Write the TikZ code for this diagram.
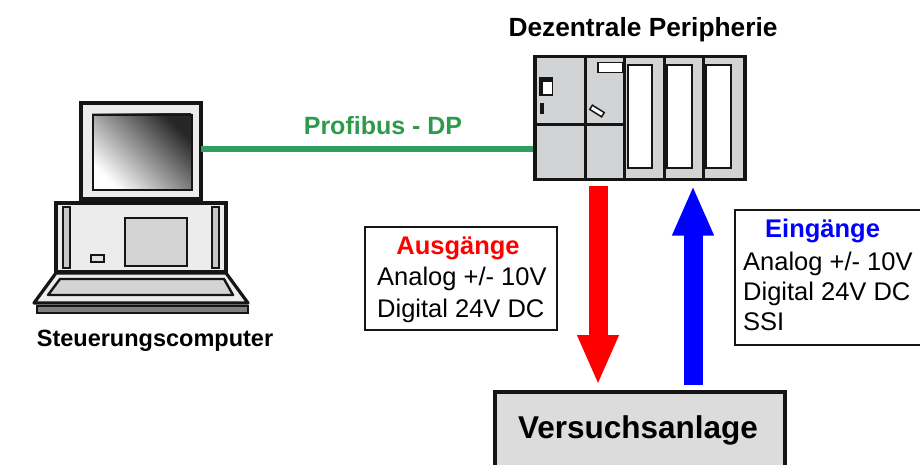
\documentclass[tikz,border=0pt]{standalone}
\usepackage{fontspec}
\setmainfont{Liberation Sans}
\usetikzlibrary{arrows.meta,calc}

\definecolor{busgreen}{HTML}{2E9E62}
\definecolor{busgreentext}{HTML}{2E9A4C}
\definecolor{casegray}{HTML}{ECECEC}
\definecolor{panelgray}{HTML}{D4D4D4}
\definecolor{plcgray}{HTML}{D2D3D5}
\definecolor{plantgray}{HTML}{DCDCDC}
\definecolor{edge}{HTML}{151515}

\tikzset{
  part/.style={draw=edge, line width=3.5pt, fill=casegray, inner sep=0pt, outer sep=0pt},
  inset/.style={draw=edge, line width=1.6pt, fill=panelgray, inner sep=0pt, outer sep=0pt},
  slot/.style={draw=edge, line width=1.8pt, fill=white, inner sep=0pt, outer sep=0pt},
  infobox/.style={draw=edge, line width=1.8pt, fill=white, inner sep=0pt, outer sep=0pt},
  title/.style={font=\bfseries\fontsize{23.5}{28}\selectfont, inner sep=0pt},
  body/.style={font=\fontsize{25.5}{30}\selectfont, inner sep=0pt},
  head/.style={font=\bfseries\fontsize{25.5}{30}\selectfont, inner sep=0pt},
  bus/.style={draw=busgreen, line width=6.5pt},
  blockarrow/.style={line width=19pt, line cap=butt, -{Triangle[width=38pt,length=50pt]}},
}

\begin{document}
\begin{tikzpicture}[x=1pt,y=-1pt]
  \useasboundingbox (0,0) rectangle (920,465);
  \clip (0,0) rectangle (920,465);

  % ---------- control computer ----------
  \node[part, anchor=north west, minimum width=120pt, minimum height=96pt] (monitor) at (81,103) {};
  \shade[top color=black!85, bottom color=white, shading angle=-45]
    (92,114) rectangle (191,189);
  \node[draw=edge, line width=1.6pt, anchor=north west, minimum width=99pt, minimum height=75pt, inner sep=0pt] (screen) at (92,114) {};
  \node[draw=edge, line width=1.8pt, fill=black!45, anchor=north west, minimum width=88pt, minimum height=4pt, inner sep=0pt] (stand) at (97,199) {};
  \node[part, anchor=north west, minimum width=170pt, minimum height=69pt] (case) at (56,203) {};
  \node[inset, fill=black!22, line width=1.4pt, anchor=north west, minimum width=7pt, minimum height=61pt] (slotL) at (63,207) {};
  \node[inset, fill=black!22, line width=1.4pt, anchor=north west, minimum width=7pt, minimum height=61pt] (slotR) at (212,207) {};
  \node[inset, anchor=north west, minimum width=62pt, minimum height=48pt] (drive) at (125,218) {};
  \node[inset, fill=black!12, line width=1.4pt, anchor=north west, minimum width=13pt, minimum height=7pt] (button) at (91,255) {};
  % keyboard
  \filldraw[draw=edge, line width=3.2pt, fill=casegray, line join=round]
    (56,273) -- (226,273) -- (248,303) -- (34,303) -- cycle;
  \filldraw[draw=edge, line width=2.4pt, fill=panelgray, line join=round]
    (60,279) -- (224,279) -- (233,295) -- (48,295) -- cycle;
  \node[draw=edge, line width=2pt, fill=black!50, anchor=north west, minimum width=211pt, minimum height=7pt, inner sep=0pt] (kbfoot) at (36,305) {};
  \node[title, anchor=base] (pcname) at (155,346) {Steuerungscomputer};

  % ---------- decentral periphery ----------
  \node[draw=edge, line width=3.5pt, fill=plcgray, anchor=north west, minimum width=210pt, minimum height=123pt, inner sep=0pt] (plc) at (533,55) {};
  \foreach \xx in {585,624,664,703}
    \draw[edge, line width=3pt] (\xx,55) -- (\xx,178);
  \draw[edge, line width=3pt] (533,125) -- (624,125);
  \node[slot, anchor=north west, minimum width=24pt, minimum height=103pt] (io1) at (628,65) {};
  \node[slot, anchor=north west, minimum width=25pt, minimum height=103pt] (io2) at (667,65) {};
  \node[slot, anchor=north west, minimum width=25pt, minimum height=103pt] (io3) at (706,65) {};
  \node[fill=edge, anchor=north west, minimum width=14pt, minimum height=19pt, inner sep=0pt] (led) at (539,77) {};
  \node[fill=white, anchor=north west, minimum width=9pt, minimum height=12pt, inner sep=0pt] (ledwin) at (543,82) {};
  \node[fill=edge, anchor=north west, minimum width=4pt, minimum height=11pt, inner sep=0pt] (switch) at (540,103) {};
  \node[draw=edge, line width=1.5pt, fill=white, anchor=north west, minimum width=25pt, minimum height=10pt, inner sep=0pt] (label) at (597,62) {};
  \node[draw=edge, line width=1.5pt, fill=white, minimum width=14pt, minimum height=5pt, inner sep=0pt, rotate=-32] (key) at (597,111) {};
  \node[title, font=\bfseries\fontsize{26.3}{30}\selectfont, anchor=base] (plcname) at (643,37) {Dezentrale Peripherie};

  % ---------- field bus ----------
  \draw[bus] ($(monitor.east)+(0,-2)$) -- ($(monitor.east -| plc.west)+(0,-2)$);
  \node[title, text=busgreentext, font=\bfseries\fontsize{25}{28}\selectfont, anchor=base] (busname) at (383,135) {Profibus - DP};

  % ---------- test rig ----------
  \node[draw=edge, line width=3.5pt, fill=plantgray, anchor=north west, minimum width=290pt, minimum height=90pt, inner sep=0pt] (anlage) at (493,390) {};
  \node[title, font=\bfseries\fontsize{31.5}{36}\selectfont, anchor=base] (anlagename) at (638,438) {Versuchsanlage};

  % ---------- signal arrows ----------
  \coordinate (outx) at (598,0);
  \coordinate (inx) at (693,0);
  \draw[blockarrow, red] ($(plc.south -| outx)+(0,5)$) -- ($(anlage.north -| outx)+(0,-5)$);
  \draw[blockarrow, blue] ($(anlage.north -| inx)+(0,-5)$) -- ($(plc.south -| inx)+(0,4)$);

  % ---------- outputs box ----------
  \node[infobox, anchor=north west, minimum width=192pt, minimum height=103pt] (outbox) at (365,227) {};
  \node[head, text=red, anchor=base] (outhead) at (458,254) {Ausgänge};
  \node[body, anchor=base west] (outA) at (377,285) {Analog +/- 10V};
  \node[body, anchor=base west] (outD) at (377,317) {Digital 24V DC};

  % ---------- inputs box ----------
  \node[infobox, anchor=north west, minimum width=200pt, minimum height=135pt] (inbox) at (735,210) {};
  \node[head, text=blue, anchor=base west] (inhead) at (765,237) {Eingänge};
  \node[body, anchor=base west] (inA) at (743,270) {Analog +/- 10V};
  \node[body, anchor=base west] (inD) at (743,300) {Digital 24V DC};
  \node[body, anchor=base west] (inS) at (743,330) {SSI};
\end{tikzpicture}
\end{document}
